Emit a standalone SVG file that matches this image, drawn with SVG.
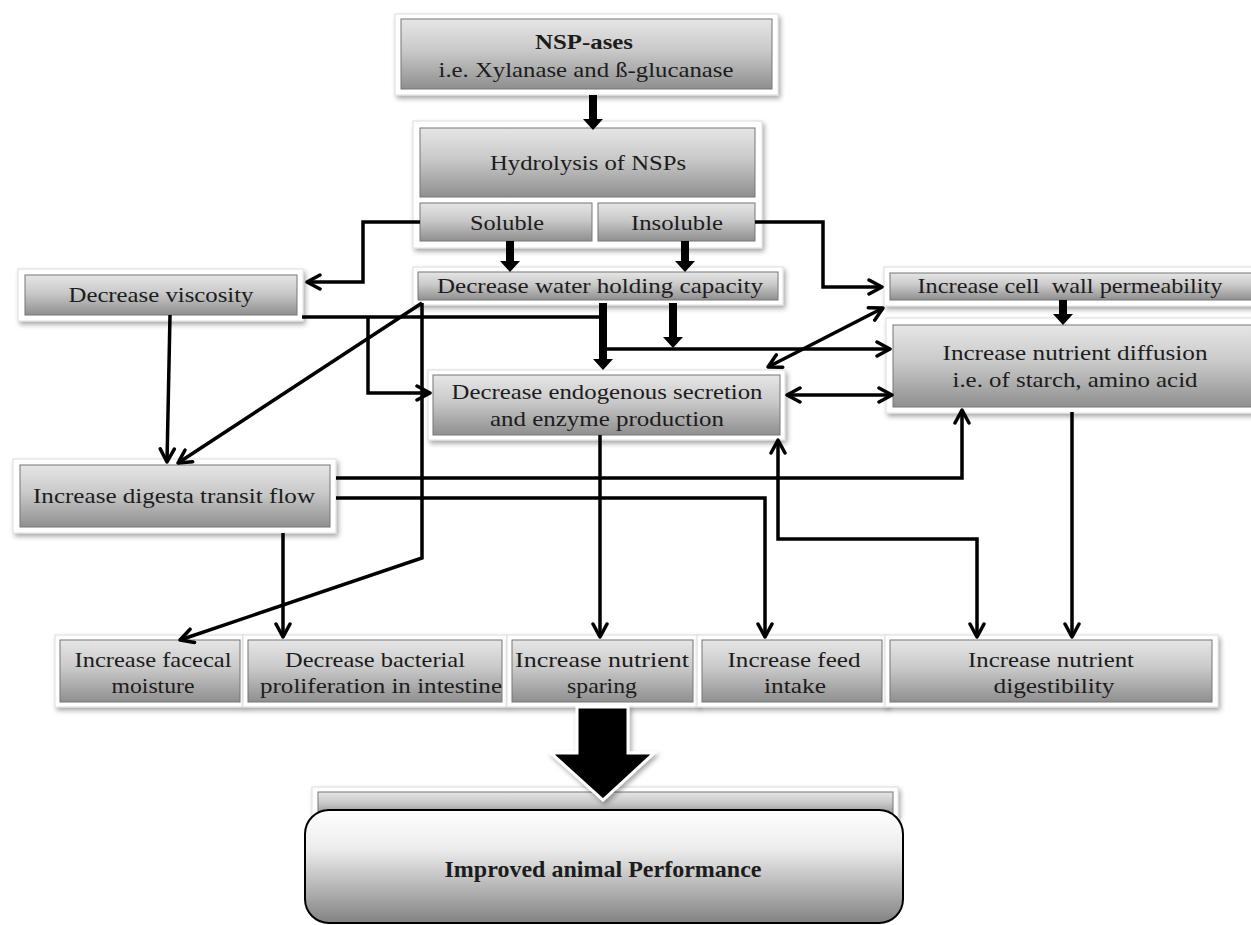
<svg xmlns="http://www.w3.org/2000/svg" width="1251" height="925" viewBox="0 0 1251 925">
<defs>
<linearGradient id="g" x1="0" y1="0" x2="0" y2="1">
<stop offset="0" stop-color="#e6e6e6"/>
<stop offset="0.45" stop-color="#c9c9c9"/>
<stop offset="1" stop-color="#8f8f8f"/>
</linearGradient>
<linearGradient id="gr" x1="0" y1="0" x2="0" y2="1">
<stop offset="0" stop-color="#ffffff"/>
<stop offset="0.35" stop-color="#ececec"/>
<stop offset="1" stop-color="#828282"/>
</linearGradient>
<filter id="sh" x="-10%" y="-20%" width="125%" height="160%">
<feDropShadow dx="2" dy="3" stdDeviation="2.5" flood-color="#000" flood-opacity="0.35"/>
</filter>
<marker id="ar" viewBox="-15 -9 17 18" refX="0" refY="0" markerWidth="17" markerHeight="18" markerUnits="userSpaceOnUse" orient="auto-start-reverse">
<path d="M-13,-7 L0,0 L-13,7" fill="none" stroke="#000" stroke-width="3.5" stroke-linecap="round" stroke-linejoin="round"/>
</marker>
<style>
.fr{fill:#fff;stroke:#dcdcdc;stroke-width:1;filter:url(#sh)}
.bx{fill:url(#g);stroke:#767676;stroke-width:1}
.t{font-family:"Liberation Serif","Times New Roman",serif;font-size:22px;fill:#1c1c1c;text-anchor:middle}
.b{font-weight:bold}
.ln{fill:none;stroke:#000;stroke-width:3.5;stroke-linecap:butt;stroke-linejoin:miter}
.one{marker-end:url(#ar)}
.two{marker-start:url(#ar);marker-end:url(#ar)}
.th{fill:#000}
</style>
</defs>
<rect width="1251" height="925" fill="#fff"/>

<g id="n-nsp">
<rect class="fr" x="395" y="14" width="383" height="81"/>
<rect class="bx" x="401" y="19" width="371" height="70"/>
<text class="t b" x="584" y="49" textLength="98" lengthAdjust="spacingAndGlyphs">NSP-ases</text>
<text class="t" x="586" y="77" textLength="295" lengthAdjust="spacingAndGlyphs">i.e. Xylanase and ß-glucanase</text>
</g>

<g id="n-hydrolysis">
<rect class="fr" x="413" y="121" width="349" height="127"/>
<rect class="bx" x="420" y="128" width="335" height="69"/>
<text class="t" x="588" y="170" textLength="196" lengthAdjust="spacingAndGlyphs">Hydrolysis of NSPs</text>
</g>
<g id="n-soluble">
<rect class="bx" x="420" y="203" width="172" height="38"/>
<text class="t" x="507" y="230" textLength="74" lengthAdjust="spacingAndGlyphs">Soluble</text>
</g>
<g id="n-insoluble">
<rect class="bx" x="598" y="203" width="157" height="38"/>
<text class="t" x="677" y="230" textLength="92" lengthAdjust="spacingAndGlyphs">Insoluble</text>
</g>

<g id="n-viscosity">
<rect class="fr" x="18" y="269" width="285" height="52"/>
<rect class="bx" x="25" y="275" width="272" height="40"/>
<text class="t" x="161" y="302" textLength="185" lengthAdjust="spacingAndGlyphs">Decrease viscosity</text>
</g>

<g id="n-water">
<rect class="fr" x="413" y="267" width="370" height="38"/>
<rect class="bx" x="418" y="272" width="360" height="28"/>
<text class="t" x="600" y="293" textLength="326" lengthAdjust="spacingAndGlyphs">Decrease water holding capacity</text>
</g>

<g id="n-cellwall">
<rect class="fr" x="884" y="267" width="372" height="39"/>
<rect class="bx" x="890" y="273" width="362" height="27"/>
<text class="t" x="1070" y="293" textLength="305" lengthAdjust="spacingAndGlyphs" xml:space="preserve">Increase cell  wall permeability</text>
</g>

<g id="n-diffusion">
<rect class="fr" x="886" y="318" width="370" height="95"/>
<rect class="bx" x="893" y="325" width="359" height="82"/>
<text class="t" x="1075" y="360" textLength="265" lengthAdjust="spacingAndGlyphs">Increase nutrient diffusion</text>
<text class="t" x="1075" y="387" textLength="245" lengthAdjust="spacingAndGlyphs">i.e. of starch, amino acid</text>
</g>

<g id="n-secretion">
<rect class="fr" x="428" y="370" width="357" height="70"/>
<rect class="bx" x="433" y="375" width="347" height="60"/>
<text class="t" x="607" y="399" textLength="311" lengthAdjust="spacingAndGlyphs">Decrease endogenous secretion</text>
<text class="t" x="607" y="426" textLength="234" lengthAdjust="spacingAndGlyphs">and enzyme production</text>
</g>

<g id="n-digesta">
<rect class="fr" x="13" y="459" width="323" height="74"/>
<rect class="bx" x="20" y="465" width="310" height="62"/>
<text class="t" x="174" y="503" textLength="282" lengthAdjust="spacingAndGlyphs">Increase digesta transit flow</text>
</g>

<g id="n-facecal">
<rect class="fr" x="55" y="635" width="188" height="72"/>
<rect class="bx" x="60" y="640" width="180" height="62"/>
<text class="t" x="153" y="667" textLength="157" lengthAdjust="spacingAndGlyphs">Increase facecal</text>
<text class="t" x="153" y="693" textLength="83" lengthAdjust="spacingAndGlyphs">moisture</text>
</g>

<g id="n-bacterial">
<rect class="fr" x="243" y="635" width="264" height="72"/>
<rect class="bx" x="248" y="640" width="254" height="62"/>
<text class="t" x="375" y="667" textLength="180" lengthAdjust="spacingAndGlyphs">Decrease bacterial</text>
<text class="t" x="381" y="693" textLength="242" lengthAdjust="spacingAndGlyphs">proliferation in intestine</text>
</g>

<g id="n-sparing">
<rect class="fr" x="507" y="635" width="191" height="72"/>
<rect class="bx" x="512" y="640" width="181" height="62"/>
<text class="t" x="602" y="667" textLength="174" lengthAdjust="spacingAndGlyphs">Increase nutrient</text>
<text class="t" x="602" y="693" textLength="70" lengthAdjust="spacingAndGlyphs">sparing</text>
</g>

<g id="n-feed">
<rect class="fr" x="697" y="635" width="190" height="72"/>
<rect class="bx" x="702" y="640" width="180" height="62"/>
<text class="t" x="794" y="667" textLength="133" lengthAdjust="spacingAndGlyphs">Increase feed</text>
<text class="t" x="795" y="693" textLength="62" lengthAdjust="spacingAndGlyphs">intake</text>
</g>

<g id="n-digestibility">
<rect class="fr" x="885" y="635" width="333" height="72"/>
<rect class="bx" x="890" y="640" width="322" height="62"/>
<text class="t" x="1051" y="667" textLength="166" lengthAdjust="spacingAndGlyphs">Increase nutrient</text>
<text class="t" x="1054" y="693" textLength="121" lengthAdjust="spacingAndGlyphs">digestibility</text>
</g>

<g id="n-result">
<rect class="fr" x="312" y="787" width="586" height="30"/>
<rect class="bx" x="318" y="792" width="575" height="24"/>
<rect x="305" y="810" width="598" height="113" rx="24" ry="24" fill="url(#gr)" stroke="#000" stroke-width="2"/>
<text class="t b" x="603" y="877" style="font-size:24px" textLength="317" lengthAdjust="spacingAndGlyphs">Improved animal Performance</text>
</g>

<g id="connectors">
<polygon class="th" points="589,95 597,95 597,119 603,119 593,130 583,119 589,119"/>
<polygon class="th" points="506,241 514,241 514,261 520,261 510,272 500,261 506,261"/>
<polygon class="th" points="681,241 689,241 689,261 695,261 685,272 675,261 681,261"/>
<polygon class="th" points="599,303 607,303 607,359 613,359 603,370 593,359 599,359"/>
<polygon class="th" points="669,303 677,303 677,337 683,337 673,348 663,337 669,337"/>
<polygon class="th" points="1059,300 1067,300 1067,314 1073,314 1063,325 1053,314 1059,314"/>

<path class="ln one" d="M420,222 H363 V282 H307"/>
<path class="ln one" d="M755,222 H823 V287 H882"/>
<path class="ln one" d="M170,315 L167,462"/>
<path class="ln" d="M302,317 H603"/>
<path class="ln one" d="M368,317 V393 H430"/>
<path class="ln one" d="M603,349 H890"/>
<path class="ln one" d="M422,303 L178,463"/>
<path class="ln one" d="M422,303 V558 L180,640"/>
<path class="ln two" d="M768,367 L883,308"/>
<path class="ln two" d="M787,395 H892"/>
<path class="ln one" d="M336,478 H962 V410"/>
<path class="ln one" d="M336,498 H765 V637"/>
<path class="ln one" d="M283,533 V637"/>
<path class="ln one" d="M600,435 V637"/>
<path class="ln two" d="M778,440 V539 H977 V637"/>
<path class="ln one" d="M1072,412 V637"/>

<polygon points="577,707 628,707 628,753 654,753 603,800 551,753 577,753" fill="#000" stroke="#fff" stroke-width="3" stroke-linejoin="miter" filter="url(#sh)"/>
</g>
</svg>
